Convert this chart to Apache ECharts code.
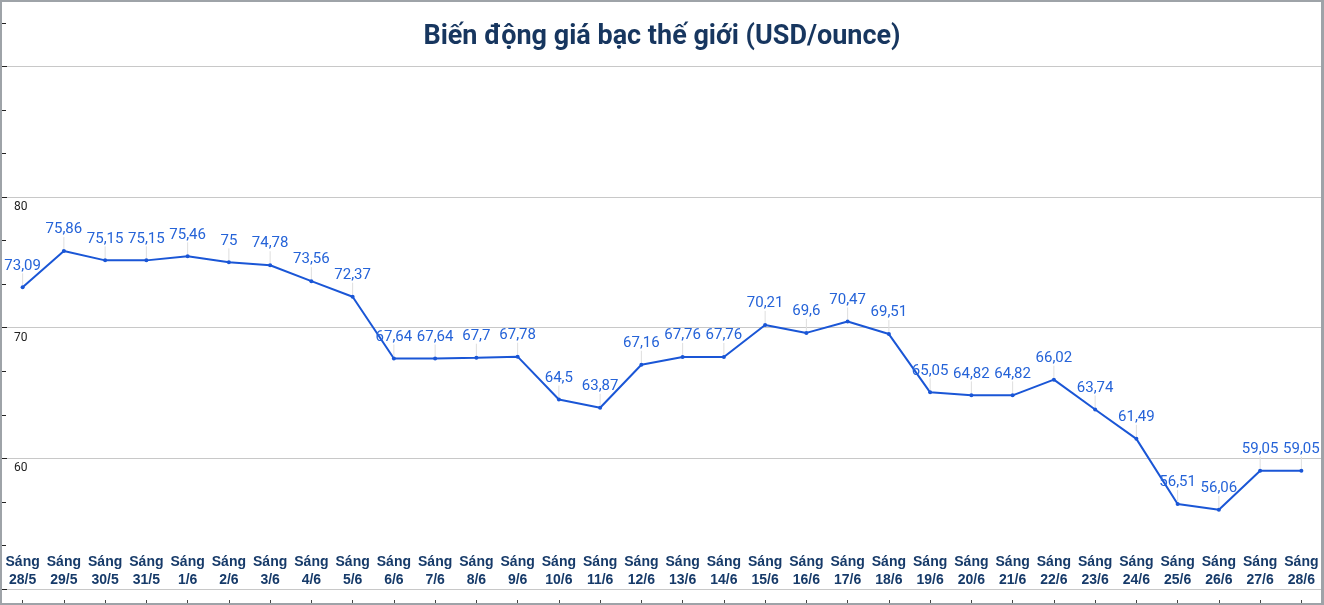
<!DOCTYPE html>
<html>
<head>
<meta charset="utf-8">
<script src="https://cdn.jsdelivr.net/npm/echarts@6/dist/echarts.min.js"></script>
<style>
    html, body { margin: 0; padding: 0; background: #fff; }
    #main { width: 1324px; height: 605px; }
    .frame {
        position: absolute; left: 0; top: 0; width: 1324px; height: 605px;
        box-sizing: border-box; border: 2px solid #9ea3a8; border-right-width: 3px;
        pointer-events: none;
    }
</style>
</head>
<body>
<div id="main"></div>
<div class="frame"></div>
<script>
//日期
const days = ['28/5', '29/5', '30/5', '31/5', '1/6', '2/6', '3/6', '4/6', '5/6', '6/6', '7/6', '8/6', '9/6', '10/6', '11/6', '12/6',
    '13/6', '14/6', '15/6', '16/6', '17/6', '18/6', '19/6', '20/6', '21/6', '22/6', '23/6', '24/6', '25/6', '26/6', '27/6', '28/6'];
//giá bạc
const prices = [73.09, 75.86, 75.15, 75.15, 75.46, 75, 74.78, 73.56, 72.37, 67.64, 67.64, 67.7, 67.78, 64.5, 63.87, 67.16,
    67.76, 67.76, 70.21, 69.6, 70.47, 69.51, 65.05, 64.82, 64.82, 66.02, 63.74, 61.49, 56.51, 56.06, 59.05, 59.05];
//nhãn trục tung hiển thị
const yLabels = [60, 70, 80];

const chart = echarts.init(document.getElementById('main'));

const option = {
    backgroundColor: '#fff',
    animation: false,
    title: {
        text: 'Biến động giá bạc thế giới (USD/ounce)',
        left: 'center',
        top: 19,
        textStyle: {
            fontFamily: 'Roboto',
            fontSize: 27,
            fontWeight: 'bold',
            color: '#17365f'
        }
    },
    grid: {
        left: 2,
        right: 2,
        top: 1,
        bottom: 16
    },
    xAxis: {
        type: 'category',
        data: days,
        offset: 11,
        axisLine: { show: false },
        axisTick: {
            show: true,
            alignWithLabel: true,
            length: 3,
            lineStyle: { color: '#444' }
        },
        axisLabel: {
            inside: true,
            margin: 11,
            interval: 0,
            fontFamily: 'Liberation Sans',
            fontSize: 14,
            fontWeight: 'bold',
            lineHeight: 18,
            color: '#163a69',
            backgroundColor: '#fff',
            formatter: function (v) {
                return 'Sáng\n' + v;
            }
        }
    },
    yAxis: {
        type: 'value',
        min: 50,
        max: 95,
        interval: 10,
        axisLine: { show: false },
        axisTick: {
            show: true,
            inside: true,
            length: 5,
            lineStyle: { color: '#222' }
        },
        minorTick: {
            show: true,
            splitNumber: 3,
            length: 4,
            lineStyle: { color: '#222' }
        },
        splitLine: {
            show: true,
            lineStyle: { color: '#c8c8c8', width: 1 }
        },
        axisLabel: {
            inside: true,
            margin: 12,
            verticalAlign: 'top',
            padding: [4, 0, 0, 0],
            fontFamily: 'Roboto',
            fontSize: 12,
            color: '#222',
            formatter: function (v) {
                return yLabels.indexOf(v) >= 0 ? String(v) : '';
            }
        }
    },
    series: [{
        type: 'line',
        data: prices,
        symbol: 'circle',
        symbolSize: 4,
        lineStyle: { color: '#1a56d6', width: 2 },
        itemStyle: { color: '#1a56d6' },
        label: {
            show: true,
            position: 'top',
            distance: 4,
            fontFamily: 'Roboto',
            fontSize: 15,
            color: '#2563d8',
            formatter: function (p) {
                return String(p.value).replace('.', ',');
            }
        },
        labelLayout: {
            dy: -8
        },
        labelLine: {
            show: true,
            lineStyle: { color: '#dedede', width: 1 }
        }
    }]
};

chart.setOption(option);
</script>
</body>
</html>
